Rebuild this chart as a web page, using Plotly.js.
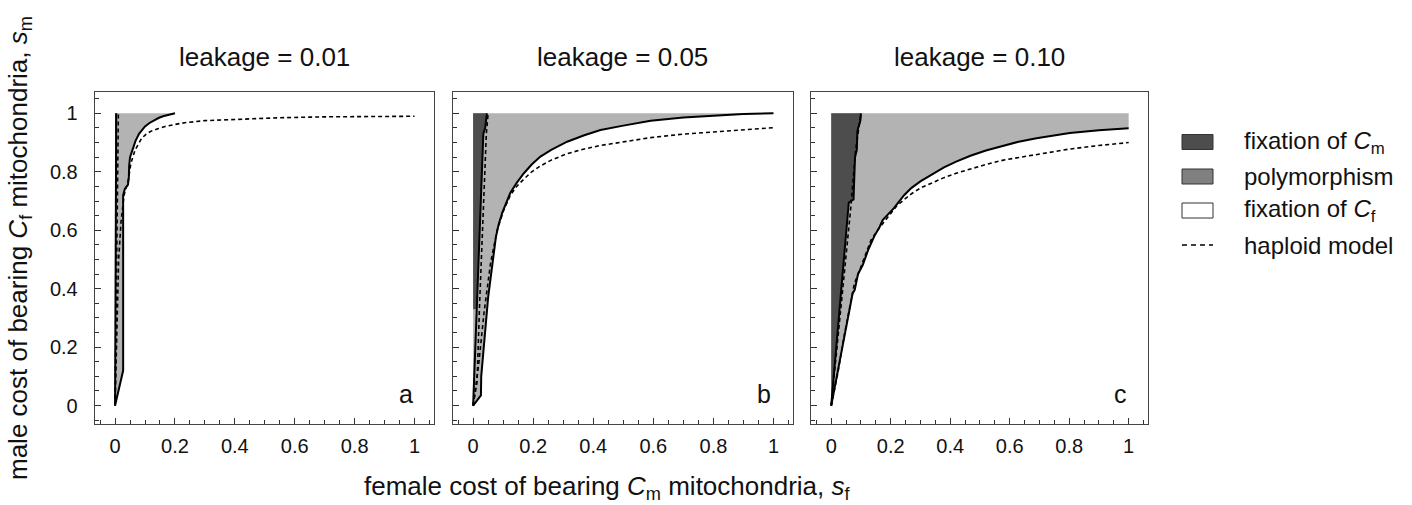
<!DOCTYPE html>
<html>
<head>
<meta charset="utf-8">
<script src="https://cdn.plot.ly/plotly-3.0.1.min.js"></script>
<style>html,body{margin:0;padding:0;background:#fff;}#chart{width:1412px;height:505px;}</style>
</head>
<body>
<div id="chart"></div>
<script>
// ---------- DATA ----------
const panelTitles = ["leakage = 0.01", "leakage = 0.05", "leakage = 0.10"];
const panelLetters = ["a", "b", "c"];
const tickVals = [0, 0.2, 0.4, 0.6, 0.8, 1];
const tickText = ["0", "0.2", "0.4", "0.6", "0.8", "1"];

// Panel a (leakage 0.01)
const aOuterX = [0, 0.027, 0.027, 0.033, 0.043, 0.046, 0.047, 0.05, 0.056, 0.068, 0.08, 0.1, 0.115, 0.13, 0.145, 0.16, 0.18, 0.2];
const aOuterY = [0, 0.12, 0.72, 0.742, 0.755, 0.78, 0.82, 0.85, 0.868, 0.905, 0.93, 0.955, 0.967, 0.977, 0.984, 0.99, 0.995, 1.0];
const aInnerX = [0, 0.004];
const aInnerY = [0, 1.0];
const aDarkX = [0, 0, 0.004];
const aDarkY = [0, 1, 1];
const aHap1X = [0, 0.004, 0.008, 0.011];
const aHap1Y = [0, 0.4, 0.75, 1.0];
const aHap2X = [0, 0.006, 0.012, 0.02, 0.03, 0.044, 0.053, 0.067, 0.089, 0.105, 0.122, 0.145, 0.167, 0.2, 0.233, 0.3, 0.4, 0.55, 0.7, 0.85, 1.0];
const aHap2Y = [0, 0.3, 0.5, 0.63, 0.72, 0.77, 0.83, 0.875, 0.915, 0.93, 0.94, 0.948, 0.955, 0.962, 0.968, 0.975, 0.98, 0.985, 0.988, 0.99, 0.99];

// Panel b (leakage 0.05)
const bOuterX = [0, 0.026, 0.027, 0.05, 0.076, 0.085, 0.097, 0.11, 0.124, 0.145, 0.169, 0.195, 0.224, 0.26, 0.313, 0.37, 0.424, 0.5, 0.591, 0.7, 0.813, 0.9, 1.0];
const bOuterY = [0, 0.035, 0.10, 0.37, 0.578, 0.62, 0.66, 0.695, 0.728, 0.762, 0.795, 0.825, 0.852, 0.875, 0.903, 0.925, 0.943, 0.958, 0.975, 0.986, 0.994, 0.998, 1.0];
const bInnerX = [0, 0.034, 0.04, 0.046];
const bInnerY = [0, 0.93, 0.95, 1.0];
const bDarkX = [0, 0, 0.046, 0.04, 0.034, 0.012];
const bDarkY = [0.33, 1, 1, 0.95, 0.93, 0.33];
const bHap1X = [0, 0.013, 0.022, 0.034, 0.044, 0.05];
const bHap1Y = [0, 0.08, 0.36, 0.70, 0.93, 1.0];
const bHap2X = [0, 0.019, 0.036, 0.058, 0.08, 0.09, 0.102, 0.124, 0.145, 0.169, 0.195, 0.224, 0.26, 0.313, 0.37, 0.424, 0.5, 0.591, 0.7, 0.813, 0.9, 1.0];
const bHap2Y = [0, 0.145, 0.316, 0.487, 0.60, 0.635, 0.669, 0.72, 0.75, 0.775, 0.80, 0.82, 0.84, 0.862, 0.878, 0.89, 0.903, 0.917, 0.929, 0.938, 0.945, 0.951];

// Panel c (leakage 0.10)
const cOuterX = [0, 0.072, 0.079, 0.09, 0.106, 0.124, 0.145, 0.163, 0.173, 0.19, 0.21, 0.245, 0.27, 0.301, 0.34, 0.379, 0.42, 0.468, 0.52, 0.579, 0.63, 0.69, 0.75, 0.802, 0.9, 1.0];
const cOuterY = [0, 0.384, 0.396, 0.45, 0.481, 0.532, 0.58, 0.612, 0.635, 0.652, 0.675, 0.72, 0.745, 0.768, 0.793, 0.815, 0.835, 0.855, 0.873, 0.89, 0.903, 0.915, 0.925, 0.933, 0.942, 0.949];
const cInnerX = [0, 0.056, 0.059, 0.075, 0.08, 0.086, 0.088, 0.098, 0.1];
const cInnerY = [0, 0.68, 0.695, 0.705, 0.85, 0.875, 0.94, 0.975, 1.0];
const cDarkX = [0, 0].concat(cInnerX.slice().reverse());
const cDarkY = [0, 1].concat(cInnerY.slice().reverse());
const cHap1X = [0, 0.035, 0.066, 0.082, 0.1];
const cHap1Y = [0, 0.36, 0.68, 0.875, 1.0];
const cHap2X = [0, 0.022, 0.045, 0.078, 0.1, 0.134, 0.161, 0.2, 0.22, 0.245, 0.27, 0.301, 0.34, 0.379, 0.42, 0.468, 0.52, 0.579, 0.69, 0.802, 0.9, 1.0];
const cHap2Y = [0, 0.11, 0.247, 0.418, 0.475, 0.567, 0.607, 0.66, 0.683, 0.705, 0.725, 0.745, 0.763, 0.78, 0.795, 0.81, 0.825, 0.84, 0.86, 0.878, 0.89, 0.9];

const legendLabels = ["fixation of <i>C</i><sub>m</sub>", "polymorphism", "fixation of <i>C</i><sub>f</sub>", "haploid model"];

// ---------- STYLE ----------
const W = 1412, H = 505;
const FONT = "Liberation Sans, Arial, Helvetica, sans-serif";
const darkCol = "#4d4d4d", lightCol = "#b3b3b3", legendMid = "#808080";
const px = x => x / W;
const py = y => 1 - y / H;

const panels = [
  {outX: aOuterX, outY: aOuterY, inX: aInnerX, inY: aInnerY, dX: aDarkX, dY: aDarkY, h1X: aHap1X, h1Y: aHap1Y, h2X: aHap2X, h2Y: aHap2Y},
  {outX: bOuterX, outY: bOuterY, inX: bInnerX, inY: bInnerY, dX: bDarkX, dY: bDarkY, h1X: bHap1X, h1Y: bHap1Y, h2X: bHap2X, h2Y: bHap2Y},
  {outX: cOuterX, outY: cOuterY, inX: cInnerX, inY: cInnerY, dX: cDarkX, dY: cDarkY, h1X: cHap1X, h1Y: cHap1Y, h2X: cHap2X, h2Y: cHap2Y}
];
const xPix = [[94.7, 434], [452.7, 793], [811, 1148]];
const yPix = [92.3, 424];
const xRange = [-0.068, 1.065];
const yRange = [-0.063, 1.072];

const traces = [];
const layout = {
  width: W, height: H,
  margin: {l: 0, r: 0, t: 0, b: 0},
  paper_bgcolor: "#fff", plot_bgcolor: "#fff",
  showlegend: false,
  font: {family: FONT, color: "#111", size: 20},
  annotations: [], shapes: []
};

panels.forEach((p, i) => {
  const xa = i === 0 ? "x" : "x" + (i + 1);
  const ya = i === 0 ? "y" : "y" + (i + 1);
  const lastX = p.outX[p.outX.length - 1];
  // polymorphism (light gray) area
  const polyX = [0, 0, lastX].concat(p.outX.slice().reverse());
  const polyY = [0, 1, 1].concat(p.outY.slice().reverse());
  traces.push({x: polyX, y: polyY, xaxis: xa, yaxis: ya, type: "scatter", mode: "lines",
    fill: "toself", fillcolor: lightCol, line: {width: 0, color: lightCol}, hoverinfo: "skip"});
  // fixation of Cm (dark) area
  traces.push({x: p.dX, y: p.dY, xaxis: xa, yaxis: ya, type: "scatter", mode: "lines",
    fill: "toself", fillcolor: darkCol, line: {width: 0, color: darkCol}, hoverinfo: "skip"});
  // boundaries
  traces.push({x: p.outX, y: p.outY, xaxis: xa, yaxis: ya, type: "scatter", mode: "lines",
    line: {color: "#000", width: 2}});
  traces.push({x: p.inX, y: p.inY, xaxis: xa, yaxis: ya, type: "scatter", mode: "lines",
    line: {color: "#000", width: 2}});
  // haploid model
  traces.push({x: p.h1X, y: p.h1Y, xaxis: xa, yaxis: ya, type: "scatter", mode: "lines",
    line: {color: "#000", width: 1.6, dash: "4px,3px"}});
  traces.push({x: p.h2X, y: p.h2Y, xaxis: xa, yaxis: ya, type: "scatter", mode: "lines",
    line: {color: "#000", width: 1.6, dash: "4px,3px"}});

  const axCommon = {
    showline: true, mirror: true, linecolor: "#444", linewidth: 1,
    showgrid: false, zeroline: false,
    ticks: "inside", ticklen: 6, tickwidth: 1, tickcolor: "#333",
    tickmode: "array", tickvals: tickVals, ticktext: tickText,
    minor: {tickmode: "linear", tick0: 0, dtick: 0.05, ticks: "inside", ticklen: 4, tickcolor: "#333", tickwidth: 1, showgrid: false},
    tickfont: {family: FONT, size: 20, color: "#111"},
    fixedrange: true
  };
  layout["xaxis" + (i === 0 ? "" : i + 1)] = Object.assign({}, axCommon, {
    domain: [px(xPix[i][0]), px(xPix[i][1])], range: xRange, anchor: ya,
    ticklabelstandoff: 4
  });
  layout["yaxis" + (i === 0 ? "" : i + 1)] = Object.assign({}, axCommon, {
    domain: [py(yPix[1]), py(yPix[0])], range: yRange, anchor: xa,
    showticklabels: i === 0, ticklabelstandoff: 12
  });

  // panel title
  layout.annotations.push({text: panelTitles[i], xref: "paper", yref: "paper",
    x: px((xPix[i][0] + xPix[i][1]) / 2), y: py(57), xanchor: "center", yanchor: "middle",
    showarrow: false, font: {family: FONT, size: 26, color: "#111"}});
  // panel letter
  layout.annotations.push({text: panelLetters[i], xref: xa, yref: ya,
    x: 1.0, y: 0.04, xanchor: "right", yanchor: "middle",
    showarrow: false, font: {family: FONT, size: 25, color: "#111"}});
});

// axis titles
layout.annotations.push({text: "female cost of bearing <i>C</i><sub>m</sub> mitochondria, <i>s</i><sub>f</sub>",
  xref: "paper", yref: "paper", x: px(607), y: py(487), xanchor: "center", yanchor: "middle",
  showarrow: false, font: {family: FONT, size: 26, color: "#111"}});
layout.annotations.push({text: "male cost of bearing <i>C</i><sub>f</sub> mitochondria, <i>s</i><sub>m</sub>",
  xref: "paper", yref: "paper", x: px(19), y: py(248), xanchor: "center", yanchor: "middle",
  textangle: -90, showarrow: false, font: {family: FONT, size: 26, color: "#111"}});

// legend (drawn manually)
const legRows = [142, 176.5, 210.5, 245];
const legFill = [darkCol, legendMid, "#ffffff"];
legRows.forEach((yc, k) => {
  if (k < 3) {
    layout.shapes.push({type: "rect", xref: "paper", yref: "paper",
      x0: px(1182), x1: px(1213), y0: py(yc + 7.5), y1: py(yc - 7.5),
      fillcolor: legFill[k], line: {color: "#333", width: 1}});
  } else {
    layout.shapes.push({type: "line", xref: "paper", yref: "paper",
      x0: px(1182), x1: px(1213), y0: py(yc), y1: py(yc),
      line: {color: "#000", width: 1.3, dash: "5px,4px"}});
  }
  layout.annotations.push({text: legendLabels[k], xref: "paper", yref: "paper",
    x: px(1242), y: py(yc), xanchor: "left", yanchor: "middle", showarrow: false,
    font: {family: FONT, size: 24, color: "#111"}});
});

Plotly.newPlot("chart", traces, layout, {displayModeBar: false, staticPlot: true});
</script>
</body>
</html>
